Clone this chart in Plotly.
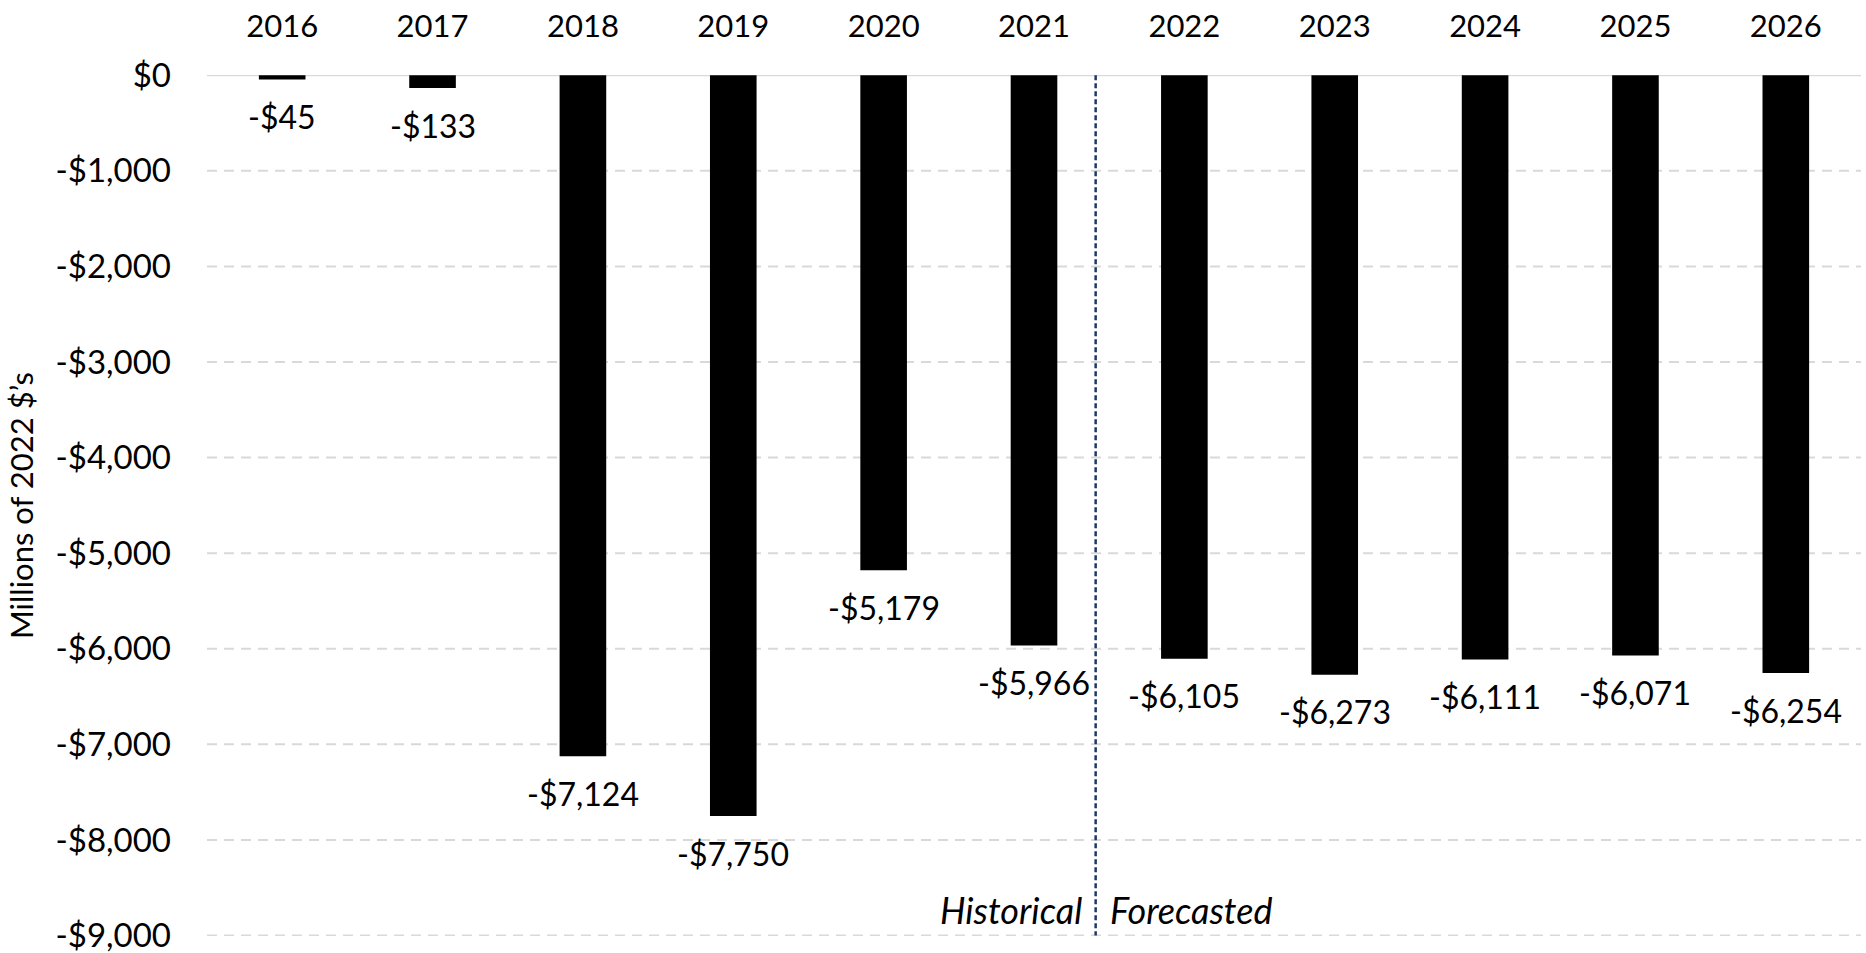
import plotly.graph_objects as go

# Annual net values, millions of 2022 dollars
years = ["2016", "2017", "2018", "2019", "2020", "2021",
         "2022", "2023", "2024", "2025", "2026"]
values = [-45, -133, -7124, -7750, -5179, -5966,
          -6105, -6273, -6111, -6071, -6254]
labels = ["-$45", "-$133", "-$7,124", "-$7,750", "-$5,179", "-$5,966",
          "-$6,105", "-$6,273", "-$6,111", "-$6,071", "-$6,254"]
y_ticks = [0, -1000, -2000, -3000, -4000, -5000, -6000, -7000, -8000, -9000]
y_tick_text = ["$0", "-$1,000", "-$2,000", "-$3,000", "-$4,000", "-$5,000",
               "-$6,000", "-$7,000", "-$8,000", "-$9,000"]

FONT = "Lato"
TXT = dict(family=FONT, size=31, color="black")
YTXT = dict(family=FONT, size=33, color="black")
LBL = dict(family=FONT, size=32, color="black")
ITAL = dict(family=FONT, size=36, color="black")

fig = go.Figure()
fig.add_trace(go.Bar(
    x=years, y=values,
    marker=dict(color="black", line=dict(width=0)),
    width=0.31,
    hoverinfo="x+y",
))

# Value labels beneath each bar end (category index used as x position)
for i, (v, lab) in enumerate(zip(values, labels)):
    fig.add_annotation(x=i, y=v, xref="x", yref="y", text=lab, showarrow=False,
                       yanchor="middle", yshift=-37, font=LBL)

# Dashed gridlines drawn as shapes so they can be dashed
for t in y_ticks[1:]:
    fig.add_shape(type="line", xref="paper", yref="y", x0=0, x1=1, y0=t, y1=t,
                  line=dict(color="#d9d9d9", width=2, dash="10px,7px"), layer="below")
fig.add_shape(type="line", xref="paper", yref="y", x0=0, x1=1, y0=0, y1=0,
              line=dict(color="#d9d9d9", width=2), layer="below")

# Boundary between historical and forecast years
split = 5.41
fig.add_shape(type="line", xref="x", yref="y", x0=split, x1=split, y0=0, y1=-9000,
              line=dict(color="#1f3864", width=2.5, dash="5px,3px"))
fig.add_annotation(x=split, y=-8730, xref="x", yref="y", text="<i>Historical</i>",
                   showarrow=False, xanchor="right", xshift=-12, font=ITAL)
fig.add_annotation(x=split, y=-8730, xref="x", yref="y", text="<i>Forecasted</i>",
                   showarrow=False, xanchor="left", xshift=12, font=ITAL)

fig.update_layout(
    width=1866, height=953,
    margin=dict(l=207, r=5, t=75, b=17),
    plot_bgcolor="white", paper_bgcolor="white",
    showlegend=False,
    font=TXT,
    xaxis=dict(side="top", showgrid=False, showline=False, ticks="",
               tickfont=TXT, ticklabelstandoff=31, range=[-0.5, 10.5],
               automargin=False),
    yaxis=dict(range=[-9005, 3], showgrid=False, zeroline=False, showline=False,
               tickmode="array", tickvals=y_ticks, ticktext=y_tick_text,
               tickfont=YTXT, ticklabelstandoff=35, ticklabeloverflow="allow",
               automargin=False,
               title=dict(text="Millions of 2022 $’s", standoff=12, font=TXT)),
)

fig.write_html("out.html")
